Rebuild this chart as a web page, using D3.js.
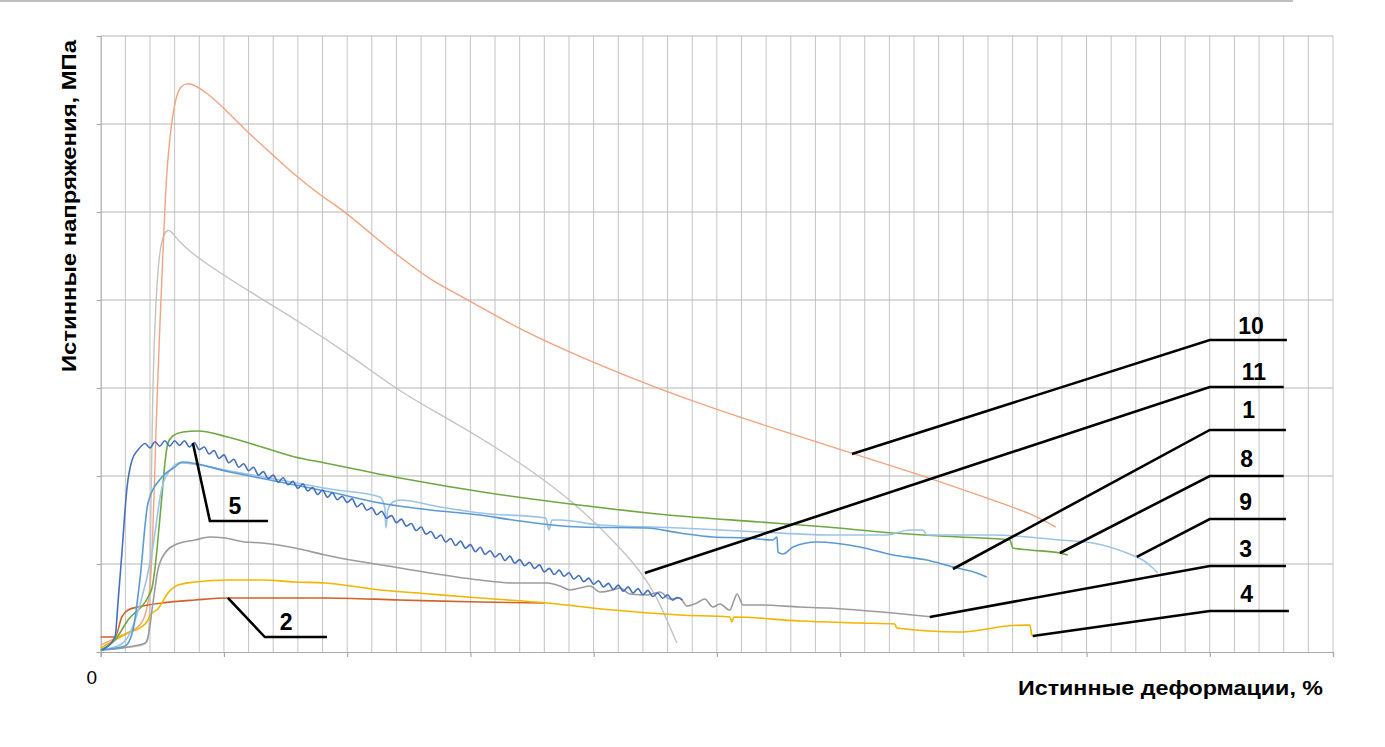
<!DOCTYPE html>
<html>
<head>
<meta charset="utf-8">
<script src="https://cdn.jsdelivr.net/npm/d3@7"></script>
<style>
  body { margin: 0; background: #fff; }
  text { font-family: "Liberation Sans", Arial, sans-serif; }
</style>
</head>
<body>
<script>
// true strain, % (x) / true stress, MPa (y)

var curve10 = [[0.01,8],[0.78,18.2],[1.59,27.3],[1.84,42],[2.0,70.5],[2.08,104.5],[2.16,172.7],[2.28,286.4],
  [2.41,377.3],[2.53,456.8],[2.61,508],[2.69,551.1],[2.89,608],[3.10,635.2],[3.26,643.2],[3.50,646.6],
  [3.83,644.3],[4.31,635.2],[4.96,619.3],[5.98,589.8],[6.99,564.8],[7.96,539.8],[8.90,519.3],[9.99,498.9],
  [10.92,476.1],[12.14,448.9],[13.36,422.7],[14.86,401.1],[17.01,365.9],[19.93,329.5],[22.45,301.1],
  [24.80,277.3],[27.52,252.3],[30.44,226.1],[33.52,198.9],[36.40,170.5],[37.70,158],[38.75,142]];

var curve11 = [[0.01,2.3],[0.78,4.5],[1.80,6.8],[1.96,13.6],[2.0,59.1],[2.04,172.7],[2.10,286.4],[2.20,377.3],
  [2.32,434.1],[2.41,456.8],[2.53,473.9],[2.73,480.7],[2.89,477.3],[3.22,464.8],[4.03,445.5],[6.06,409.1],
  [8.08,375],[10.11,337.5],[12.14,295.5],[13.97,267],[15.75,237.5],[17.58,204.5],[19.32,167],[20.78,127.3],
  [21.88,93.2],[22.57,62.5],[22.97,36.4],[23.38,10.2]];

var curve8 = [[0,2.3],[0.58,13.6],[1.11,36.4],[1.92,62.5],[2.08,72.7],[2.24,104.5],[2.32,127.3],[2.45,167],
  [2.53,192],[2.61,215.9],[2.73,237.5],[2.93,245.5],[3.34,250],[3.95,251.1],[5.16,244.3],[6.54,233],
  [7.88,221.6],[9.10,214.8],[12.14,197.7],[15.75,180.7],[19.40,167],[23.01,155.7],[26.75,147.7],[29.46,142],
  [32.14,135.2],[34.86,130.7],[36.89,127.3],[37.01,118.2],[37.70,115.9],[38.92,112.5],[39.24,110.2]];

var curve9 = [[0,2.3],[0.78,8],[1.10,17],[1.59,53.4],[2.08,112.5],[2.49,187.5],[2.89,209.1],[3.22,214.8],
  [5.24,205.7],[7.27,195.5],[9.30,185.2],[11.33,176.1],[11.53,163.6],[11.57,140.9],[11.65,161.4],[11.86,170.5],
  [12.14,172.7],[13.76,164.8],[15.39,158],[18.06,152.3],[18.19,138.6],[18.31,150],[18.63,150],[20.26,144.3],
  [23.50,140.9],[26.75,136.4],[29.46,133],[31.90,133],[32.83,138.6],[33.36,138.6],[33.52,133],[36.20,133],
  [38.92,127.3],[40.25,123.9],[41.64,112.5],[42.28,104.5],[42.69,95.5],[42.89,89.8]];

var curve1 = [[0,2.3],[0.99,6.8],[1.31,25],[1.59,81.8],[1.92,169.3],[2.49,198.9],[3.01,210.2],[3.30,215.9],
  [5.24,204.5],[7.27,193.2],[9.30,181.8],[11.33,169.3],[13.36,161.4],[15.39,155.7],[16.73,150],[19.44,142],
  [22.16,140.9],[23.50,135.2],[24.84,130.7],[26.22,129.5],[27.27,127.3],[27.44,130.7],[27.48,113.6],
  [27.68,111.4],[28.09,119.3],[29.06,125],[30.80,119.3],[32.14,110.2],[33.52,104.5],[34.58,96.6],
  [35.55,89.8],[35.95,85.2]];

var curve5 = [[0.05,2.3],[0.58,17],[0.71,59],[0.86,112.5],[1.07,187.5],[1.27,218],[1.51,229.5],
  [1.8,237],[2.0,232],[2.2,239],[2.4,234],[2.6,240],[2.8,234],[3.0,240],[3.2,235],[3.4,240],[3.6,233],
  [3.8,238],[4.0,230],[4.2,233],[4.4,225],[4.6,229],[4.8,220],[5.0,224],[5.2,215],[5.4,219],[5.6,210],
  [5.8,214],[6.0,206],[6.2,210],[6.4,201],[6.6,205],[6.8,197],[7.0,201],[7.2,193],[7.4,198],[7.6,190],
  [7.8,194],[8.0,186],[8.2,191],[8.4,183],[8.6,187],[8.8,179],[9.0,184],[9.2,176],[9.4,181],[9.6,173],
  [9.8,177],[10.0,170],[10.2,174],[10.4,165],[10.6,169],[10.8,161],[11.0,164],[11.2,156],[11.4,160],
  [11.6,152],[11.8,155],[12.0,147],[12.2,151],[12.4,143],[12.6,146],[12.8,138],[13.0,142],[13.2,134],
  [13.4,137],[13.6,129],[13.8,133],[14.0,125],[14.2,129],[14.4,121],[14.6,126],[14.8,118],[15.0,122],
  [15.2,114],[15.4,119],[15.6,111],[15.8,115],[16.0,108],[16.2,112],[16.4,104],[16.6,109],[16.8,101],
  [17.0,105],[17.2,98],[17.4,102],[17.6,95],[17.8,99],[18.0,91],[18.2,95],[18.4,88],[18.6,93],[18.8,86],
  [19.0,90],[19.2,83],[19.4,87],[19.6,80],[19.8,84],[20.0,77],[20.2,81],[20.4,74],[20.6,78],[20.8,71],
  [21.0,76],[21.2,69],[21.4,74],[21.6,67],[21.8,72],[22.0,65],[22.2,70],[22.4,63],[22.6,67],[22.8,61],
  [23.0,65],[23.2,59],[23.4,62],[23.6,59]];

var curve3 = [[0,2.3],[0.58,3.4],[1.11,5.7],[1.80,10.2],[1.92,17],[2.12,55.7],[2.32,93.2],[2.61,112.5],
  [3.01,121.6],[3.83,127.3],[4.43,130.7],[5.04,129.5],[5.85,125],[6.54,123.9],[7.88,118.2],[9.10,110.2],
  [12.14,95.5],[15.39,81.8],[16.73,78.4],[18.11,78.4],[18.64,75],[19.04,70.5],[19.44,72.7],[19.85,75],
  [20.26,68.2],[20.78,70.5],[21.07,72.7],[21.47,65.9],[22.16,64.8],[22.69,68.2],[23.10,60.2],[23.50,61.4],
  [23.78,52.3],[24.19,55.7],[24.51,60.2],[24.84,51.1],[25.12,54.5],[25.53,47.7],[25.70,59.1],[25.82,65.9],
  [26.06,53.4],[26.75,53.4],[28.37,51.1],[29.46,50],[32.14,44.3],[33.77,39.8]];

var curve4 = [[0,4.5],[0.58,13.6],[1.11,21.6],[1.80,31.8],[1.92,36.4],[2.0,42],[2.32,48.9],[2.73,67],
  [3.14,76.1],[3.83,79.5],[5.16,81.8],[6.54,81.8],[7.88,79.5],[9.10,78.4],[11.33,70.5],[13.36,65.9],
  [15.39,61.4],[18.11,55.7],[20.78,47.7],[23.50,42],[25.53,39.8],[25.61,34.1],[25.69,39.8],[28.37,35.2],
  [30.80,33],[32.22,31.8],[32.30,27.3],[34.86,22.7],[35.96,26.1],[36.77,29.5],[37.70,30.7],[37.78,19.3],
  [37.90,17]];

var curve2 = [[0,17],[0.58,17],[0.86,39.8],[1.11,47.7],[1.51,51.1],[2.49,55.7],[3.83,59.1],[5.16,61.4],
  [6.54,61.4],[9.10,61.4],[12.14,59.1],[15.39,56.8],[18.02,55.7]];

// series names and the point each leader line points at (plus elbow, end of shelf, label spot)
var labels   = ["10", "11", "1", "8", "9", "3", "4", "5", "2"];
var anchors  = [[30.48,225],[22.08,89.8],[34.58,94.3],[38.92,112.5],[42.04,108],[33.64,39.8],[37.82,18.2],[3.74,237.5],[5.16,61.4]];
var elbows   = [[45.0,354.5],[45.0,301.1],[45.0,252.3],[45.0,200],[45.0,151.1],[45.0,97.7],[45.0,46.6],[4.43,148.9],[6.66,17]];
var shelfEnd = [48.13, 48.0, 48.09, 48.0, 48.09, 48.09, 48.21, 6.79, 9.18];
var labelPos = [[46.67,361.4],[46.79,309.1],[46.58,265.9],[46.5,210.2],[46.46,161.4],[46.46,108],[46.5,56.8],[5.45,156.8],[7.52,25]];

// smooth: the two long clean curves get a B-spline, the rest keep their wiggles
var series = [
  {data: curve11, color: "#c3c3c3", w: 1.4, smooth: true},
  {data: curve10, color: "#f3a37f", w: 1.4, smooth: true},
  {data: curve2,  color: "#d0622a", w: 1.6},
  {data: curve4,  color: "#f2b600", w: 1.6},
  {data: curve3,  color: "#9c9c9c", w: 1.6},
  {data: curve8,  color: "#6fa843", w: 1.6},
  {data: curve9,  color: "#9dc3e6", w: 1.6},
  {data: curve1,  color: "#5b9bd5", w: 1.6},
  {data: curve5,  color: "#4470c0", w: 1.6}
];

var W = 1385, H = 747;
var svg = d3.select("body").append("svg").attr("width", W).attr("height", H);

var x = d3.scaleLinear().domain([0, 50]).range([100.7, 1333]);
var y = d3.scaleLinear().domain([0, 700]).range([652, 36]);

// thin rule along the very top
svg.append("line").attr("x1", 0).attr("x2", 1293).attr("y1", 1).attr("y2", 1)
  .attr("stroke", "#a8a8a8").attr("stroke-width", 1.5);

// grid
svg.append("g").selectAll("line").data(d3.range(1, 51)).enter().append("line")
  .attr("x1", d => x(d)).attr("x2", d => x(d))
  .attr("y1", y(700)).attr("y2", y(0))
  .attr("stroke", "#c4c4c4").attr("stroke-width", 1);
svg.append("g").selectAll("line").data(d3.range(100, 701, 100)).enter().append("line")
  .attr("x1", x(0)).attr("x2", x(50))
  .attr("y1", d => y(d)).attr("y2", d => y(d))
  .attr("stroke", "#b8b8b8").attr("stroke-width", 1.2);

// axes, no numbers except the 0
var xAxis = svg.append("g").attr("transform", "translate(0," + y(0) + ")")
  .call(d3.axisBottom(x).tickValues(d3.range(0, 51, 5)).tickSize(5).tickFormat(""));
var yAxis = svg.append("g").attr("transform", "translate(" + x(0) + ",0)")
  .call(d3.axisLeft(y).tickValues(d3.range(0, 701, 100)).tickSize(4).tickFormat(""));
svg.selectAll(".domain, .tick line").attr("stroke", "#a9a9a9").attr("stroke-width", 1.2);

svg.append("text").attr("x", x(0) - 9).attr("y", 684)
  .attr("text-anchor", "middle").attr("font-size", 19).text("0");

// curves
var line = d3.line().x(d => x(d[0])).y(d => y(d[1])).curve(d3.curveMonotoneX);
var smoothLine = d3.line().x(d => x(d[0])).y(d => y(d[1])).curve(d3.curveBasis);
svg.append("g").selectAll("path").data(series).enter().append("path")
  .attr("d", d => d.smooth ? smoothLine(d.data) : line(d.data))
  .attr("fill", "none")
  .attr("stroke", d => d.color)
  .attr("stroke-width", d => d.w)
  .attr("stroke-linejoin", "round");

// leader lines
var lead = svg.append("g");
labels.forEach(function(t, i) {
  var pts = [anchors[i], elbows[i], [shelfEnd[i], elbows[i][1]]];
  lead.append("polyline")
    .attr("points", pts.map(p => x(p[0]) + "," + y(p[1])).join(" "))
    .attr("fill", "none").attr("stroke", "#000").attr("stroke-width", 2.6);
  lead.append("text")
    .attr("x", x(labelPos[i][0])).attr("y", y(labelPos[i][1]))
    .attr("text-anchor", "middle").attr("font-size", 23).attr("font-weight", "bold")
    .text(t);
});

// axis titles
svg.append("text")
  .attr("x", 1323).attr("y", 695).attr("text-anchor", "end")
  .attr("font-size", 21).attr("font-weight", "bold")
  .attr("textLength", 305).attr("lengthAdjust", "spacingAndGlyphs")
  .text("Истинные деформации, %");
svg.append("text")
  .attr("transform", "translate(76,206) rotate(-90)")
  .attr("text-anchor", "middle")
  .attr("font-size", 21).attr("font-weight", "bold")
  .attr("textLength", 332).attr("lengthAdjust", "spacingAndGlyphs")
  .text("Истинные напряжения, МПа");
</script>
</body>
</html>
